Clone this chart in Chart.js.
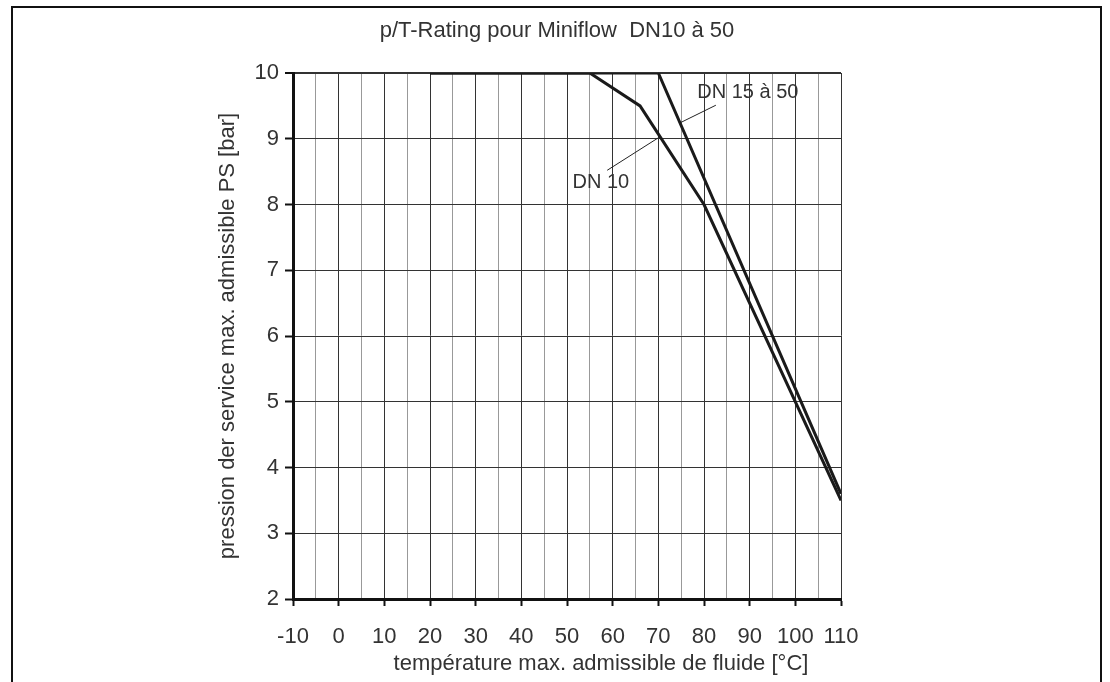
<!DOCTYPE html>
<html>
<head>
<meta charset="utf-8">
<script src="https://cdn.jsdelivr.net/npm/chart.js@4"></script>
<style>
  body { margin: 0; background: #fff; }
  canvas { display: block; }
</style>
</head>
<body>
<canvas id="ptChart" width="1110" height="682"></canvas>
<script>
// Werte
const dn15Temp = [20, 70, 110];
const dn15Press = [10, 10, 3.6];
const dn10Temp = [20, 55, 66, 80, 110];
const dn10Press = [10, 10, 9.5, 8, 3.5];

// Hinweislinien zu den Beschriftungen
const dn15LeaderTemp = [74.7, 82.6];
const dn15LeaderPress = [9.24, 9.51];
const dn10LeaderTemp = [58.8, 69.9];
const dn10LeaderPress = [8.52, 9.01];

const xMin = -10, xMax = 110;
const yMin = 2, yMax = 10;

const fontFamily = '"Liberation Sans", Arial, Helvetica, sans-serif';
const textColor = '#333';

function toPoints(xs, ys) {
    return xs.map((x, i) => ({ x: x, y: ys[i] }));
}

// Texte und Rahmen
const textPlugin = {
    id: 'texts',
    afterDraw(chart) {
        const ctx = chart.ctx;
        const xs = chart.scales.x;
        const ys = chart.scales.y;
        const area = chart.chartArea;
        ctx.save();

        ctx.strokeStyle = '#111';
        ctx.lineWidth = 2;
        ctx.strokeRect(12, 7, 1089, 700);

        ctx.fillStyle = textColor;
        ctx.textAlign = 'center';
        ctx.textBaseline = 'middle';

        ctx.font = '22px ' + fontFamily;
        ctx.fillText('p/T-Rating pour Miniflow  DN10 à 50', 557, 31);

        // Achsentitel x, leicht nach rechts versetzt wie im Original
        ctx.fillText('température max. admissible de fluide [°C]', 601, 664);

        ctx.save();
        ctx.translate(228, (area.top + area.bottom) / 2);
        ctx.rotate(-Math.PI / 2);
        ctx.fillText('pression der service max. admissible PS [bar]', 0, 0);
        ctx.restore();

        ctx.font = '20px ' + fontFamily;
        ctx.fillText('DN 15 à 50', xs.getPixelForValue(89.6), ys.getPixelForValue(9.71));
        ctx.fillText('DN 10', xs.getPixelForValue(57.4), ys.getPixelForValue(8.34));

        ctx.restore();
    }
};

new Chart(document.getElementById('ptChart'), {
    type: 'line',
    data: {
        datasets: [{
            label: 'DN 15 à 50',
            data: toPoints(dn15Temp, dn15Press),
            borderColor: '#1a1a1a',
            borderWidth: 3,
            pointRadius: 0,
            tension: 0
        }, {
            label: 'DN 10',
            data: toPoints(dn10Temp, dn10Press),
            borderColor: '#1a1a1a',
            borderWidth: 3,
            pointRadius: 0,
            tension: 0
        }, {
            label: 'leader15',
            data: toPoints(dn15LeaderTemp, dn15LeaderPress),
            borderColor: '#222',
            borderWidth: 1,
            pointRadius: 0
        }, {
            label: 'leader10',
            data: toPoints(dn10LeaderTemp, dn10LeaderPress),
            borderColor: '#222',
            borderWidth: 1,
            pointRadius: 0
        }]
    },
    options: {
        responsive: false,
        animation: false,
        layout: {
            padding: { top: 73, right: 269, bottom: 0, left: 0 }
        },
        plugins: {
            legend: { display: false },
            tooltip: { enabled: false }
        },
        scales: {
            x: {
                type: 'linear',
                min: xMin,
                max: xMax,
                afterFit: s => { s.height = 83; },
                border: { display: true, width: 3, color: '#111' },
                grid: {
                    color: c => (c.tick && c.tick.value % 10 === 0) ? '#333' : '#999',
                    lineWidth: 1,
                    drawTicks: true,
                    tickLength: 7,
                    tickWidth: 2,
                    tickColor: c => (c.tick && c.tick.value % 10 === 0) ? '#111' : 'rgba(0,0,0,0)'
                },
                ticks: {
                    stepSize: 5,
                    autoSkip: false,
                    maxRotation: 0,
                    padding: 18,
                    color: textColor,
                    font: { family: fontFamily, size: 22 },
                    callback: v => (v % 10 === 0 ? String(v) : '')
                }
            },
            y: {
                min: yMin,
                max: yMax,
                afterFit: s => { s.width = 293; },
                border: { display: true, width: 3, color: '#111' },
                grid: {
                    color: '#333',
                    lineWidth: c => (c.tick && c.tick.value === 10) ? 2 : 1,
                    drawTicks: true,
                    tickLength: 8,
                    tickWidth: 2,
                    tickColor: '#111'
                },
                ticks: {
                    stepSize: 1,
                    padding: 6,
                    color: textColor,
                    font: { family: fontFamily, size: 22 }
                }
            }
        }
    },
    plugins: [textPlugin]
});
</script>
</body>
</html>
